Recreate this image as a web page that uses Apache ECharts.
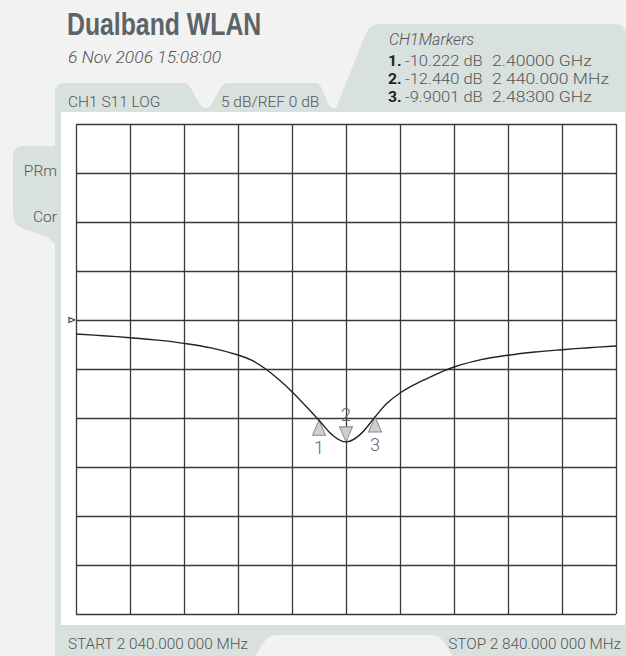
<!DOCTYPE html>
<html>
<head>
<meta charset="utf-8">
<script src="https://cdn.jsdelivr.net/npm/echarts@6/dist/echarts.min.js"></script>
<style>
html,body{margin:0;padding:0;background:#f2f2f2;}
#chart{width:626px;height:656px;}
</style>
</head>
<body>
<div id="chart"></div>
<script>
// ---- data ----
const freqMHz = [2040, 2080, 2120, 2160, 2200, 2240, 2280, 2300, 2320, 2340, 2360, 2380, 2400, 2420, 2440, 2460, 2483, 2500, 2520, 2540, 2560, 2580, 2600, 2640, 2680, 2720, 2760, 2800, 2840];
const s11dB   = [-1.43, -1.60, -1.81, -2.05, -2.38, -2.85, -3.57, -4.10, -4.95, -6.05, -7.32, -8.75, -10.222, -11.75, -12.44, -11.75, -9.9001, -8.55, -7.45, -6.65, -5.98, -5.35, -4.80, -4.05, -3.60, -3.27, -3.03, -2.83, -2.65];

const markerNums = ['1', '2', '3'];
const markerFreqMHz = [2400, 2440, 2483];
const markerDb = [-10.222, -12.440, -9.9001];
const markerPointsUp = [true, false, true];
const markerValueText = ['-10.222 dB', '-12.440 dB', '-9.9001 dB'];
const markerFreqText = ['2.40000 GHz', '2 440.000 MHz', '2.48300 GHz'];

const startMHz = 2040, stopMHz = 2840, stepMHz = 80;
const refDb = 0, dbPerDiv = 5, bottomDb = -30, topDb = 20;

const titleText = 'Dualband WLAN';
const dateText = '6 Nov 2006 15:08:00';
const traceText = 'CH1 S11 LOG';
const scaleText = '5 dB/REF 0 dB';
const markersTitle = 'CH1Markers';
const sideTexts = ['PRm', 'Cor'];
const startText = 'START 2 040.000 000 MHz';
const stopText = 'STOP 2 840.000 000 MHz';

// ---- styling ----
const PAGE = '#f2f2f2', PANEL = '#d9e1de', TXT = '#555555';
const LIGHT = 'Roboto, "Liberation Sans", sans-serif';

echarts.graphic.registerShape('panelMain', echarts.graphic.extendPath(
  'M55 657 L55 93 Q55 83 65 83 L184 83 C193 83 197 108 206 108 C214 108 218 83 228 83 L316 83 C324 83 326 108 333 108 L336 108 L366 33 Q370 24 380 24 L614 24 Q626 24 626 36 L626 657 Z'));
echarts.graphic.registerShape('panelSide', echarts.graphic.extendPath(
  'M56 146 L23 146 Q13 146 13 156 L13 214 Q13 225 24 229 L44 236 Q52 239 56 246 Z'));
echarts.graphic.registerShape('panelCut', echarts.graphic.extendPath(
  'M255 657 C262 645 266 635 278 635 L430 635 C442 635 446 645 453 657 Z'));

function txt(text, x, y, opts) {
  opts = opts || {};
  return {
    type: 'text', z: 20, silent: true,
    x: x, y: y, scaleX: opts.scaleX || 1,
    style: {
      text: text, x: 0, y: 0,
      fill: opts.fill || TXT,
      fontSize: opts.size || 15,
      fontFamily: opts.family || LIGHT,
      fontWeight: opts.weight || 300,
      fontStyle: opts.style || 'normal',
      align: opts.align || 'left', textAlign: opts.align || 'left',
      verticalAlign: 'middle', textVerticalAlign: 'middle'
    }
  };
}

const graphics = [
  { type: 'rect', z: -30, silent: true, shape: { x: 0, y: 0, width: 626, height: 656 }, style: { fill: PAGE } },
  { type: 'panelMain', z: -20, silent: true, shape: {}, style: { fill: PANEL } },
  { type: 'panelSide', z: -20, silent: true, shape: {}, style: { fill: PANEL } },
  { type: 'panelCut', z: -19, silent: true, shape: {}, style: { fill: PAGE } },
  { type: 'rect', z: -10, silent: true, shape: { x: 61, y: 112, width: 564, height: 513 }, style: { fill: '#ffffff' } },

  txt(titleText, 67, 25, { size: 31, weight: 'bold', family: '"Liberation Sans", Arial, sans-serif', fill: '#5b6469', scaleX: 0.8 }),
  txt(dateText, 68, 57, { style: 'italic', size: 16.5, scaleX: 1.06 }),
  txt(markersTitle, 389, 39, { style: 'italic', size: 16 }),
  txt(traceText, 68, 101.5, { size: 15.5 }),
  txt(scaleText, 221, 102, { size: 15.5 }),
  txt(sideTexts[0], 57, 170.5, { align: 'right', size: 15.5 }),
  txt(sideTexts[1], 57, 216.5, { align: 'right', size: 15.5 }),
  txt(startText, 68, 643.5, { size: 15.3 }),
  txt(stopText, 621, 643.5, { align: 'right', size: 15.3 })
];
markerNums.forEach(function (n, i) {
  const y = 61 + i * 18;
  graphics.push(txt(n + '.', 388, y, { weight: 'bold', fill: '#222222', size: 15, scaleX: 1.05 }));
  graphics.push(txt(markerValueText[i], 405, y, { size: 15, scaleX: 1.1 }));
  graphics.push(txt(markerFreqText[i], 492, y, { size: 15, scaleX: 1.17 }));
});

const markData = markerNums.map(function (n, i) {
  const up = markerPointsUp[i];
  return {
    name: n,
    coord: [markerFreqMHz[i], markerDb[i]],
    symbol: up ? 'path://M5,0 L10,10 L0,10 Z' : 'path://M0,0 L10,0 L5,10 Z',
    symbolSize: [13, 15],
    symbolOffset: [0, up ? 7.5 : -7.5],
    label: { show: true, formatter: n, position: up ? 'bottom' : 'top', distance: 3,
      fontSize: 18, fontFamily: LIGHT, fontWeight: 300, color: '#666666' }
  };
});
markData.push({
  name: 'ref',
  coord: [startMHz, refDb],
  symbol: 'path://M0,0 L10,5 L0,10 Z',
  symbolSize: [6, 5],
  symbolOffset: [-4, 0],
  itemStyle: { color: '#ffffff', borderColor: '#333333', borderWidth: 1 },
  label: { show: false }
});

const chart = echarts.init(document.getElementById('chart'), null, { renderer: 'svg' });
chart.setOption({
  animation: false,
  backgroundColor: PAGE,
  graphic: graphics,
  grid: { left: 76, top: 124, width: 540, height: 490, show: false },
  xAxis: {
    type: 'value', min: startMHz, max: stopMHz, interval: stepMHz,
    axisLabel: { show: false }, axisTick: { show: false },
    axisLine: { show: false },
    splitLine: { show: true, lineStyle: { color: '#3a3a3a', width: 1.3 } }
  },
  yAxis: {
    type: 'value', min: bottomDb, max: topDb, interval: dbPerDiv,
    axisLabel: { show: false }, axisTick: { show: false },
    axisLine: { show: false },
    splitLine: { show: true, lineStyle: { color: '#3a3a3a', width: 1.3 } }
  },
  series: [{
    type: 'line',
    data: freqMHz.map(function (f, i) { return [f, s11dB[i]]; }),
    smooth: 0.4,
    showSymbol: false,
    lineStyle: { color: '#222222', width: 1.4 },
    z: 5,
    markPoint: {
      silent: true,
      itemStyle: { color: '#cfcfcf', borderColor: '#8a8a8a', borderWidth: 1 },
      data: markData
    }
  }]
});
</script>
</body>
</html>
